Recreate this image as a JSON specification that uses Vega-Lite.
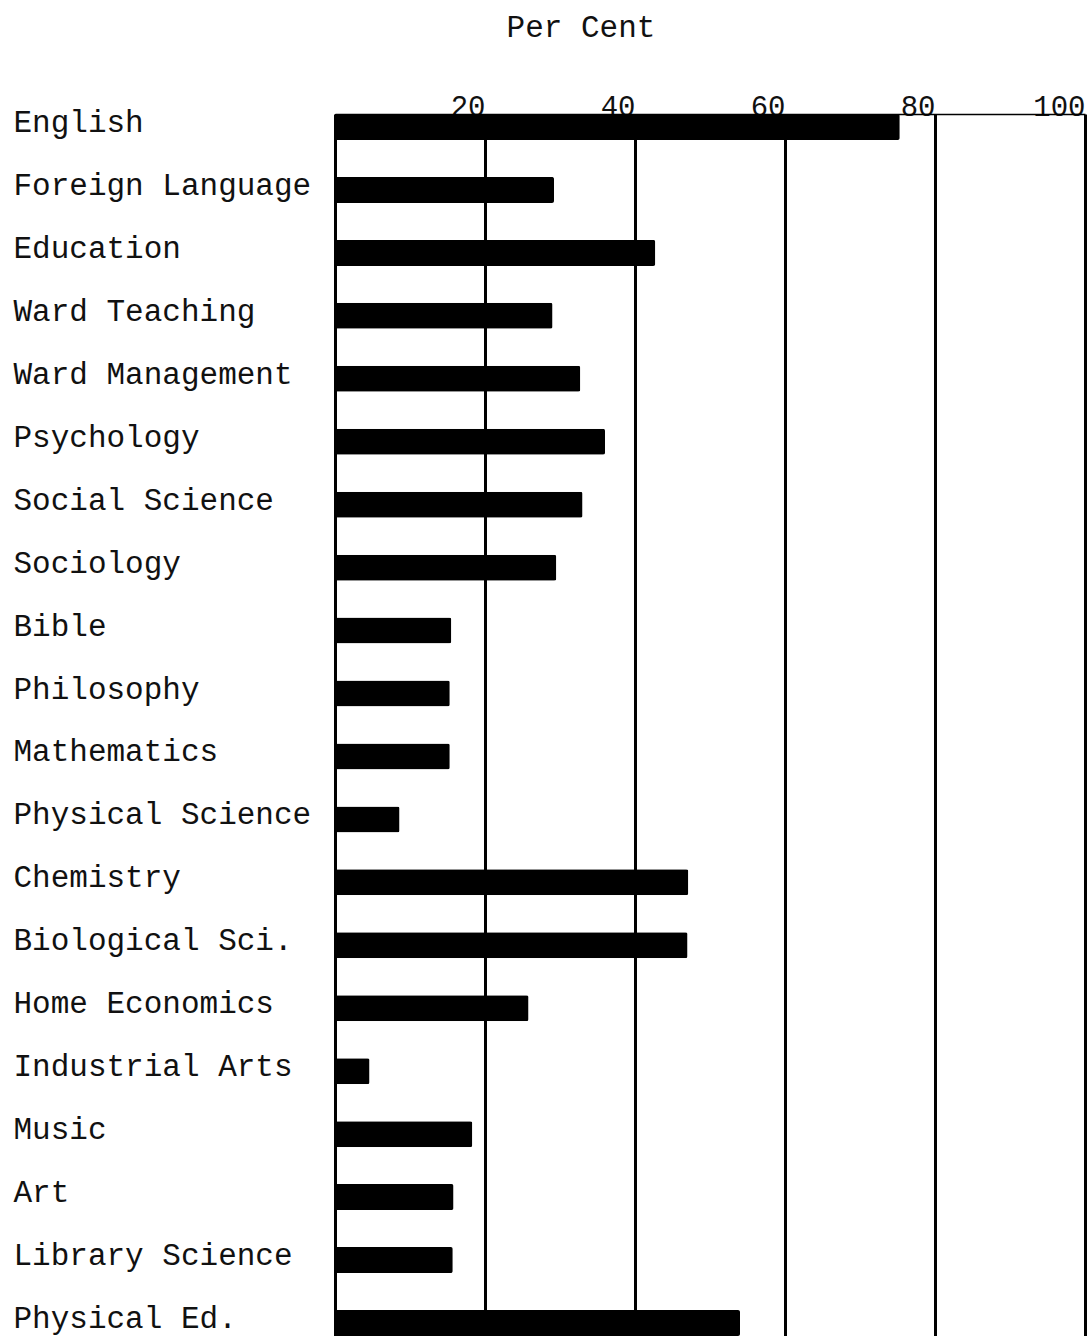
{
  "$schema": "https://vega.github.io/schema/vega-lite/v6.json",
  "autosize": "none",
  "width": 750,
  "height": 1222,
  "padding": {"left": 335, "top": 114, "right": 6, "bottom": 0},
  "background": "white",
  "title": {
    "text": "Per Cent",
    "font": "Liberation Mono",
    "fontSize": 31,
    "fontWeight": "normal",
    "color": "#111",
    "anchor": "middle",
    "dx": -129,
    "offset": 48
  },
  "data": {
    "values": [
      {"subject": "English", "pct": 75.3},
      {"subject": "Foreign Language", "pct": 29.2},
      {"subject": "Education", "pct": 42.7},
      {"subject": "Ward Teaching", "pct": 29.0},
      {"subject": "Ward Management", "pct": 32.7},
      {"subject": "Psychology", "pct": 36.0},
      {"subject": "Social Science", "pct": 33.0},
      {"subject": "Sociology", "pct": 29.5},
      {"subject": "Bible", "pct": 15.5},
      {"subject": "Philosophy", "pct": 15.3},
      {"subject": "Mathematics", "pct": 15.3},
      {"subject": "Physical Science", "pct": 8.6},
      {"subject": "Chemistry", "pct": 47.1},
      {"subject": "Biological Sci.", "pct": 47.0},
      {"subject": "Home Economics", "pct": 25.8},
      {"subject": "Industrial Arts", "pct": 4.6},
      {"subject": "Music", "pct": 18.3},
      {"subject": "Art", "pct": 15.8},
      {"subject": "Library Science", "pct": 15.7},
      {"subject": "Physical Ed.", "pct": 54.0}
    ]
  },
  "mark": {"type": "bar", "color": "black", "cornerRadiusEnd": 2},
  "encoding": {
    "y": {
      "field": "subject",
      "type": "nominal",
      "sort": null,
      "scale": {"paddingInner": 0.587, "paddingOuter": 0},
      "axis": {
        "title": null,
        "orient": "left",
        "ticks": false,
        "tickSize": 0,
        "labelAlign": "left",
        "labelBaseline": "middle",
        "labelPadding": 322,
        "labelOffset": -4,
        "labelLimit": 400,
        "labelFont": "Liberation Mono",
        "labelFontSize": 31,
        "labelColor": "#111",
        "domain": true,
        "domainColor": "black",
        "domainWidth": 3,
        "grid": false
      }
    },
    "x": {
      "field": "pct",
      "type": "quantitative",
      "scale": {"domain": [0, 100], "nice": false},
      "axis": {
        "title": null,
        "orient": "top",
        "values": [20, 40, 60, 80, 100],
        "ticks": false,
        "tickSize": 0,
        "labelAlign": "right",
        "labelBaseline": "alphabetic",
        "labelPadding": -1,
        "labelDx": 2,
        "labelFlush": false,
        "labelOverlap": false,
        "labelBound": false,
        "labelFont": "Liberation Mono",
        "labelFontSize": 29,
        "labelColor": "#111",
        "domain": true,
        "domainColor": "black",
        "domainWidth": 1.5,
        "grid": true,
        "gridColor": "black",
        "gridWidth": 3,
        "gridOpacity": 1
      }
    }
  },
  "config": {"view": {"stroke": null}}
}
